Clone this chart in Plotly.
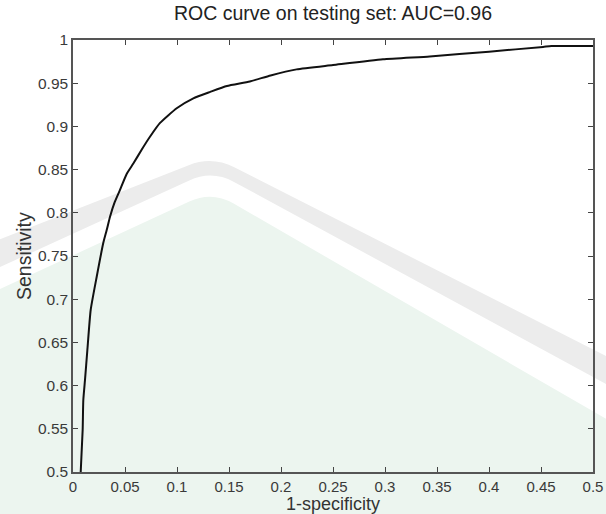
import plotly.graph_objects as go

# ROC curve readings (1-specificity, sensitivity)
fpr = [0.0074, 0.0093, 0.0099, 0.0115, 0.0138, 0.017, 0.0228, 0.0291, 0.0324,
       0.0356, 0.040, 0.045, 0.0516, 0.058, 0.066, 0.074, 0.0837, 0.0997,
       0.1157, 0.132, 0.148, 0.17, 0.19, 0.215, 0.25, 0.298, 0.343, 0.40,
       0.452, 0.46, 0.5]
tpr = [0.5, 0.549, 0.583, 0.606, 0.641, 0.6875, 0.726, 0.765, 0.780,
       0.7955, 0.812, 0.826, 0.845, 0.857, 0.873, 0.888, 0.904, 0.921,
       0.9325, 0.940, 0.9468, 0.952, 0.959, 0.966, 0.971, 0.9777, 0.981, 0.9865,
       0.992, 0.993, 0.993]

x_ticks = [0, 0.05, 0.1, 0.15, 0.2, 0.25, 0.3, 0.35, 0.4, 0.45, 0.5]
x_labels = ["0", "0.05", "0.1", "0.15", "0.2", "0.25", "0.3", "0.35", "0.4", "0.45", "0.5"]
y_ticks = [0.5, 0.55, 0.6, 0.65, 0.7, 0.75, 0.8, 0.85, 0.9, 0.95, 1]
y_labels = ["0.5", "0.55", "0.6", "0.65", "0.7", "0.75", "0.8", "0.85", "0.9", "0.95", "1"]

title_text = "ROC curve on testing set: AUC=0.96"
x_title = "1-specificity"
y_title = "Sensitivity"

FONT = "Liberation Sans, Arial, Helvetica, sans-serif"

fig = go.Figure()
fig.add_trace(go.Scatter(x=fpr, y=tpr, mode="lines",
                         line=dict(color="#111111", width=2, shape="spline", smoothing=0.5),
                         showlegend=False, hoverinfo="skip"))

W, H = 606, 514
L, R, T, B = 73, 13, 40, 42
pw, ph = W - L - R, H - T - B

def pp(px, py):
    return "%.4f,%.4f" % ((px - L) / pw, (H - B - py) / ph)

def arch_edge(ly, ax, ay, ry, r=25):
    lx, rx = -2, 608
    t1 = r / ((ax - lx) ** 2 + (ay - ly) ** 2) ** 0.5
    p1 = (ax + (lx - ax) * t1, ay + (ly - ay) * t1)
    t2 = r / ((rx - ax) ** 2 + (ry - ay) ** 2) ** 0.5
    p2 = (ax + (rx - ax) * t2, ay + (ry - ay) * t2)
    return [(lx, ly), p1, (ax, ay), p2, (rx, ry)]

def edge_path(pts):
    a, p1, c, p2, b = pts
    return ("M " + pp(*a) + " L " + pp(*p1) + " Q " + pp(*c) + " " + pp(*p2) +
            " L " + pp(*b))

def edge_path_rev(pts):
    a, p1, c, p2, b = pts
    return (" L " + pp(*b) + " L " + pp(*p2) + " Q " + pp(*c) + " " +
            pp(*p1) + " L " + pp(*a))

mint_top = arch_edge(290, 212, 191, 420)
mint = edge_path(mint_top) + " L " + pp(608, 516) + " L " + pp(-2, 516) + " Z"
g_top = arch_edge(240, 212, 156, 357)
g_bot = arch_edge(268, 212, 170, 385)
gray = edge_path(g_top) + edge_path_rev(g_bot) + " Z"

fig.update_layout(
    width=W, height=H,
    margin=dict(l=L, r=R, t=T, b=B, autoexpand=False),
    paper_bgcolor="white", plot_bgcolor="rgba(0,0,0,0)",
    font=dict(family=FONT, size=15, color="#3a3a3a"),
    title=dict(text=title_text, x=(L + pw / 2) / W, xanchor="center",
               y=1 - 13.5 / H, yanchor="middle",
               font=dict(size=19.5, color="#222222")),
    shapes=[
        dict(type="path", xref="paper", yref="paper", path=mint,
             fillcolor="#ecf5ef", line=dict(width=0), layer="below"),
        dict(type="path", xref="paper", yref="paper", path=gray,
             fillcolor="#ececec", line=dict(width=0), layer="below"),
    ],
    annotations=[
        dict(text=x_title, xref="paper", yref="paper", x=0.5, y=(H - B - 504) / ph,
             xanchor="center", yanchor="middle", showarrow=False,
             font=dict(size=18, color="#333333")),
        dict(text=y_title, xref="paper", yref="paper", x=(24 - L) / pw, y=0.5,
             xanchor="center", yanchor="middle", showarrow=False, textangle=-90,
             font=dict(size=19.5, color="#333333")),
    ],
    xaxis=dict(range=[0, 0.5], tickvals=x_ticks, ticktext=x_labels,
               ticks="inside", ticklen=5, tickcolor="#444", tickwidth=1,
               showline=True, linecolor="#555", linewidth=1.5, mirror="ticks",
               showgrid=False, zeroline=False, automargin=False,
               tickfont=dict(size=15, color="#3a3a3a")),
    yaxis=dict(range=[0.5, 1], tickvals=y_ticks, ticktext=y_labels,
               ticks="inside", ticklen=5, tickcolor="#444", tickwidth=1,
               showline=True, linecolor="#555", linewidth=1.5, mirror="ticks",
               showgrid=False, zeroline=False, automargin=False,
               tickfont=dict(size=15.5, color="#3a3a3a")),
)

fig.write_html("out.html", config={"displayModeBar": False},
               post_script="document.body.style.margin='0';")
